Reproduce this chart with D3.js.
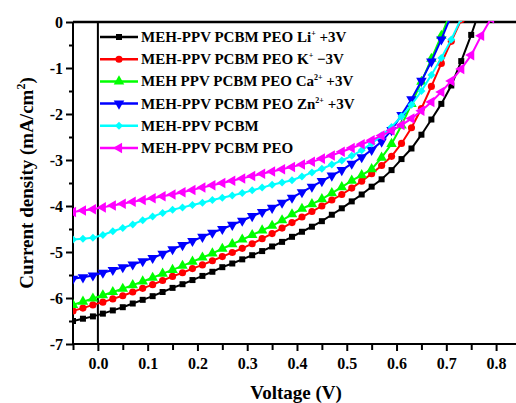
<!DOCTYPE html>
<html>
<head>
<meta charset="utf-8">
<script src="https://d3js.org/d3.v7.min.js"></script>
<style>
  body { margin: 0; background: #fff; }
  text { font-family: "Liberation Serif", "Times New Roman", serif; font-weight: bold; fill: #000; }
</style>
</head>
<body>
<div id="chart"></div>
<script>
// voltage grid (V)
var voltage = [-0.05, -0.03, -0.01, 0.01, 0.03, 0.05, 0.07, 0.09, 0.11, 0.13, 0.15, 0.17, 0.19, 0.21,
  0.23, 0.25, 0.27, 0.29, 0.31, 0.33, 0.35, 0.37, 0.39, 0.41, 0.43, 0.45, 0.47, 0.49, 0.51, 0.53,
  0.55, 0.57, 0.59, 0.61, 0.63, 0.65, 0.67, 0.69, 0.71, 0.73, 0.75, 0.77, 0.79];

// current density (mA/cm2), one array per device
var jLi = [-6.50, -6.45, -6.40, -6.34, -6.27, -6.20, -6.12, -6.04, -5.96, -5.87, -5.78, -5.70, -5.61, -5.52,
  -5.43, -5.33, -5.25, -5.16, -5.07, -4.98, -4.88, -4.78, -4.67, -4.56, -4.45, -4.33, -4.19, -4.05, -3.90, -3.75,
  -3.58, -3.42, -3.22, -2.98, -2.75, -2.45, -2.12, -1.78, -1.38, -0.85, -0.28, 0.35];
var jK = [-6.28, -6.22, -6.15, -6.09, -6.02, -5.95, -5.87, -5.79, -5.71, -5.62, -5.53, -5.45, -5.36, -5.28,
  -5.19, -5.10, -5.01, -4.92, -4.82, -4.71, -4.60, -4.48, -4.36, -4.24, -4.12, -4.00, -3.87, -3.75, -3.61, -3.46,
  -3.30, -3.12, -2.92, -2.64, -2.30, -1.88, -1.40, -0.90, -0.42, 0.05];
var jCa = [-6.15, -6.08, -6.01, -5.94, -5.87, -5.80, -5.72, -5.64, -5.56, -5.47, -5.39, -5.30, -5.21, -5.12,
  -5.03, -4.93, -4.83, -4.73, -4.63, -4.53, -4.43, -4.31, -4.18, -4.06, -3.96, -3.85, -3.72, -3.59, -3.45, -3.33,
  -3.20, -2.95, -2.65, -2.25, -1.78, -1.30, -0.80, -0.30, 0.25];
var jZn = [-5.58, -5.55, -5.51, -5.45, -5.39, -5.33, -5.27, -5.20, -5.13, -5.04, -4.94, -4.85, -4.76, -4.67,
  -4.58, -4.50, -4.41, -4.32, -4.22, -4.13, -4.04, -3.93, -3.82, -3.70, -3.58, -3.46, -3.34, -3.22, -3.08, -2.94,
  -2.78, -2.60, -2.35, -2.02, -1.68, -1.28, -0.86, -0.38, 0.15];
var jRef = [-4.73, -4.71, -4.69, -4.63, -4.55, -4.48, -4.40, -4.31, -4.23, -4.15, -4.08, -4.03, -3.98, -3.93,
  -3.87, -3.82, -3.77, -3.72, -3.66, -3.60, -3.54, -3.49, -3.44, -3.36, -3.27, -3.19, -3.10, -3.01, -2.91, -2.79,
  -2.64, -2.47, -2.28, -2.05, -1.80, -1.50, -1.15, -0.78, -0.38, 0.08];
var jPeo = [-4.13, -4.10, -4.07, -4.03, -3.99, -3.95, -3.91, -3.87, -3.83, -3.79, -3.75, -3.70, -3.65, -3.60,
  -3.55, -3.50, -3.45, -3.40, -3.35, -3.30, -3.25, -3.20, -3.15, -3.10, -3.04, -2.97, -2.90, -2.82, -2.74, -2.66,
  -2.57, -2.47, -2.36, -2.24, -2.10, -1.93, -1.74, -1.52, -1.28, -1.02, -0.72, -0.30, 0.08];

var seriesNames = ["MEH-PPV PCBM PEO Li", "MEH-PPV PCBM PEO K", "MEH PPV PCBM PEO Ca",
  "MEH-PPV PCBM PEO Zn", "MEH-PPV PCBM", "MEH-PPV PCBM PEO"];
var seriesSup = ["+", "+", "2+", "2+", "", ""];
var seriesTail = [" +3V", " \u22123V", " +3V", " +3V", "", ""];
var seriesValues = [jLi, jK, jCa, jZn, jRef, jPeo];
var colors = ["#000000", "#ff0000", "#00ff00", "#0000ff", "#00ffff", "#ff00ff"];

var W = 516, H = 403;
var mLeft = 73, mRight = 516, mTop = 22, mBottom = 344;

var svg = d3.select("#chart").append("svg")
  .attr("width", W).attr("height", H);

var x = d3.scaleLinear().domain([-0.05, 0.84]).range([mLeft, mRight]);
var y = d3.scaleLinear().domain([-7, 0]).range([mBottom, mTop]);

svg.append("defs").append("clipPath").attr("id", "plot")
  .append("rect").attr("x", mLeft).attr("y", mTop - 1)
  .attr("width", mRight - mLeft).attr("height", mBottom - mTop + 1);

// symbol for each series (diamond = square turned 45deg)
var symbols = [
  { type: d3.symbolSquare, size: 36, rot: 0 },
  { type: d3.symbolCircle, size: 40, rot: 0 },
  { type: d3.symbolTriangle, size: 48, rot: 0 },
  { type: d3.symbolTriangle, size: 48, rot: 180 },
  { type: d3.symbolSquare, size: 32, rot: 45 },
  { type: d3.symbolTriangle, size: 48, rot: -90 }
];

// x axis (bottom)
var xAxis = d3.axisBottom(x)
  .tickValues(d3.range(-0.05, 0.84, 0.05))
  .tickSize(6)
  .tickFormat(function(d) {
    var r = Math.round(d * 100);
    return r % 10 === 0 ? d3.format(".1f")(d) : "";
  });
var gx = svg.append("g").attr("transform", "translate(0," + mBottom + ")").call(xAxis);
gx.select(".domain").attr("stroke-width", 2).attr("d", "M" + mLeft + ",0H" + mRight);
gx.selectAll(".tick line").attr("stroke-width", 2)
  .attr("y2", function(d) { return Math.abs(Math.round(d * 100)) % 10 === 0 ? 7 : 6; });
gx.selectAll(".tick text").attr("font-size", 16).attr("dy", "1.0em");

// y axis (left)
var yAxis = d3.axisLeft(y)
  .tickValues(d3.range(-7, 0.01, 0.5))
  .tickSize(6)
  .tickFormat(function(d) {
    return Number.isInteger(d) ? String(d).replace("\u2212", "-") : "";
  });
var gy = svg.append("g").attr("transform", "translate(" + mLeft + ",0)").call(yAxis);
gy.select(".domain").attr("stroke-width", 2).attr("d", "M0," + mTop + "V" + mBottom);
gy.selectAll(".tick line").attr("stroke-width", 2)
  .attr("x2", function(d) { return Number.isInteger(d) ? -7 : -4; });
gy.selectAll(".tick text").attr("font-size", 16).attr("x", -10);

// zero lines
svg.append("line").attr("x1", mLeft).attr("x2", mRight)
  .attr("y1", y(0)).attr("y2", y(0)).attr("stroke", "#000").attr("stroke-width", 2.5);
svg.append("line").attr("x1", x(0)).attr("x2", x(0))
  .attr("y1", mTop).attr("y2", mBottom).attr("stroke", "#000").attr("stroke-width", 2);

// curves
var line = d3.line()
  .x(function(d) { return x(d[0]); })
  .y(function(d) { return y(d[1]); });

var plot = svg.append("g").attr("clip-path", "url(#plot)");
seriesValues.forEach(function(vals, i) {
  var pts = vals.map(function(v, k) { return [voltage[k], v]; });
  plot.append("path").datum(pts)
    .attr("fill", "none").attr("stroke", colors[i]).attr("stroke-width", 2)
    .attr("d", line);
  var sym = d3.symbol().type(symbols[i].type).size(symbols[i].size);
  plot.selectAll(".m" + i).data(pts).enter().append("path")
    .attr("d", sym)
    .attr("fill", colors[i])
    .attr("transform", function(d) {
      return "translate(" + x(d[0]) + "," + y(d[1]) + ") rotate(" + symbols[i].rot + ")";
    });
});

// legend
var leg = svg.append("g");
seriesNames.forEach(function(name, i) {
  var ly = 37 + i * 22.2;
  leg.append("line").attr("x1", 100).attr("x2", 138).attr("y1", ly).attr("y2", ly)
    .attr("stroke", colors[i]).attr("stroke-width", 2.5);
  leg.append("path")
    .attr("d", d3.symbol().type(symbols[i].type).size(symbols[i].size))
    .attr("fill", colors[i])
    .attr("transform", "translate(119," + ly + ") rotate(" + symbols[i].rot + ")");
  var t = leg.append("text").attr("x", 141).attr("y", ly + 5).attr("font-size", 15);
  t.append("tspan").text(name);
  if (seriesSup[i]) {
    t.append("tspan").attr("font-size", 8).attr("dy", -6).text(seriesSup[i]);
    t.append("tspan").attr("dy", 6).text(seriesTail[i]);
  }
});

// axis titles
svg.append("text").attr("x", 296).attr("y", 399).attr("text-anchor", "middle")
  .attr("font-size", 19).text("Voltage (V)");
var yt = svg.append("text").attr("transform", "translate(33,183) rotate(-90)")
  .attr("text-anchor", "middle").attr("font-size", 19);
yt.append("tspan").text("Current density (mA/cm");
yt.append("tspan").attr("font-size", 12).attr("dy", -8).text("2");
yt.append("tspan").attr("dy", 8).text(")");
</script>
</body>
</html>
